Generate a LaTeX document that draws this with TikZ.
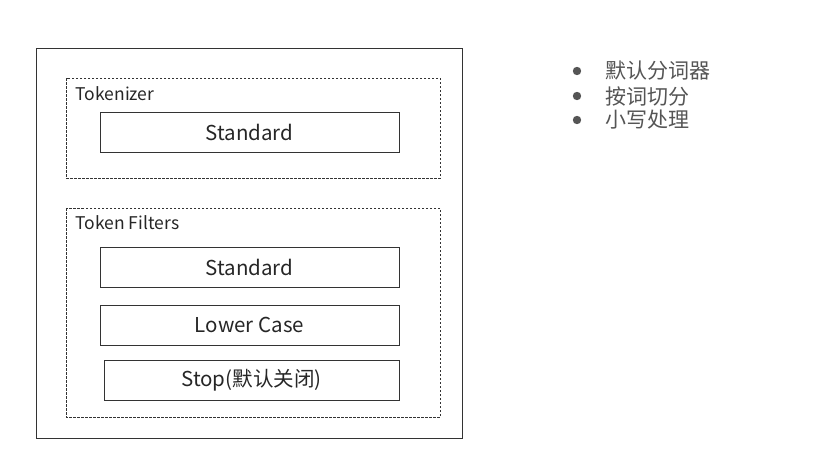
\documentclass[tikz,border=0pt]{standalone}
\usepackage{fontspec}
\setmainfont{Noto Sans CJK SC}
\usetikzlibrary{positioning}
\definecolor{txtgray}{HTML}{555555}
\tikzset{
  stage/.style={draw=black!80,line width=0.6pt,dashed,dash pattern=on 2.5pt off 1.5pt},
  filterbox/.style={draw=black!80,line width=0.6pt,minimum width=299pt,minimum height=40pt,
    font=\fontsize{20.5}{24}\selectfont,text=black!85},
  caption/.style={anchor=west,font=\fontsize{17.5}{20}\selectfont,text=black!85},
  point/.style={anchor=west,font=\fontsize{21}{24}\selectfont,text=txtgray}
}
\begin{document}
\begin{tikzpicture}[x=1pt,y=-1pt]
  \useasboundingbox (0,0) rectangle (836,466);
  \draw[black!80,line width=0.6pt] (36,48) rectangle (462,438);
  % tokenizer
  \draw[stage] (66,78) rectangle (440,178);
  \node[caption] (tok) at (72,94) {Tokenizer};
  \node[filterbox] (std1) at (249.5,132) {Standard};
  % token filters
  \draw[stage] (66,208) rectangle (440,417);
  \node[caption] (filt) at (72,223) {Token Filters};
  \node[filterbox] (std2) at (249.5,267) {Standard};
  \node[filterbox] (lower) at (249.5,325) {Lower Case};
  \node[filterbox,minimum width=295pt] (stop) at (251.5,380) {Stop(默认关闭)};
  % notes
  \foreach \y/\t [count=\i] in {71/默认分词器,96/按词切分,120/小写处理}{
    \fill[txtgray] (577,\y) circle (4.2pt);
    \node[point] (note\i) at (602,\y) {\t};
  }
\end{tikzpicture}
\end{document}
